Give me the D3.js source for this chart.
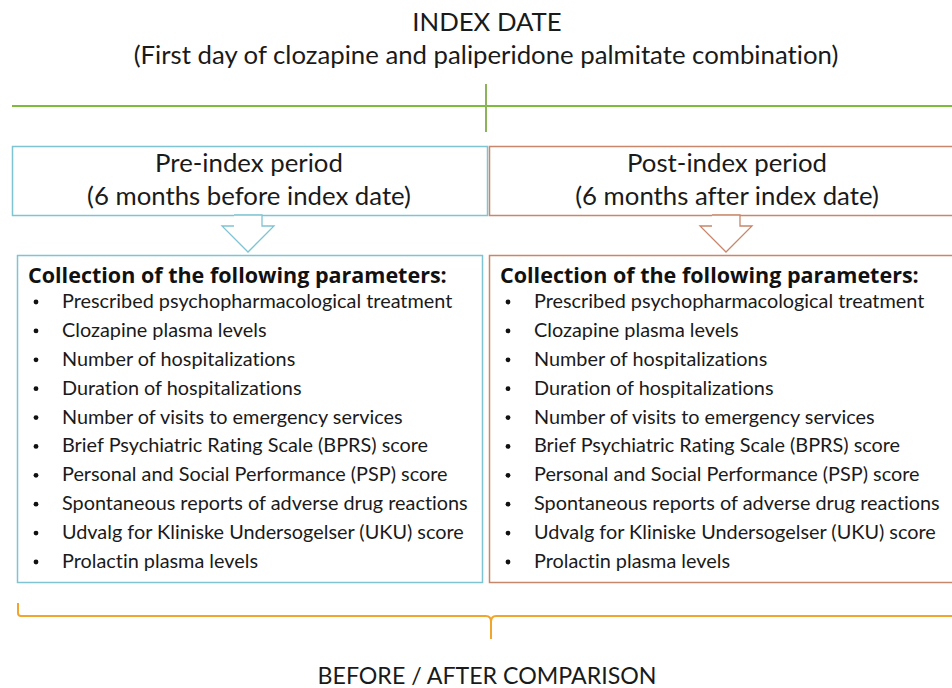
<!DOCTYPE html>
<html>
<head>
<meta charset="utf-8">
<script src="https://cdn.jsdelivr.net/npm/d3@7"></script>
<style>
  html, body { margin: 0; padding: 0; background: #fff; }
  svg { display: block; }
  text { font-variant-ligatures: none; }
</style>
</head>
<body>
<div id="chart"></div>
<script>
const titleLines = ['INDEX DATE', '(First day of clozapine and paliperidone palmitate combination)'];
const periods = ['pre', 'post'];
const periodTitles = ['Pre-index period', 'Post-index period'];
const periodSubtitles = ['(6 months before index date)', '(6 months after index date)'];
const periodColors = ['#7fc4d2', '#c8866a'];
const listHeading = 'Collection of the following parameters:';
const parameters = [
  'Prescribed psychopharmacological treatment',
  'Clozapine plasma levels',
  'Number of hospitalizations',
  'Duration of hospitalizations',
  'Number of visits to emergency services',
  'Brief Psychiatric Rating Scale (BPRS) score',
  'Personal and Social Performance (PSP) score',
  'Spontaneous reports of adverse drug reactions',
  'Udvalg for Kliniske Undersogelser (UKU) score',
  'Prolactin plasma levels'
];
const footerLabel = 'BEFORE / AFTER COMPARISON';

const W = 952, H = 688;
const FONT = 'Lato, "Open Sans", sans-serif';
const svg = d3.select('#chart').append('svg').attr('width', W).attr('height', H);

// column geometry
const col = d3.scaleOrdinal().domain(periods).range([{ hx: 12, hw: 475, bx: 17, bw: 465, cx: 249 }, { hx: 489, hw: 480, bx: 489, bw: 480, cx: 727 }]);
const itemY = d3.scalePoint().domain(parameters).range([308, 568]);

// fit helper: pick font size so that a text spans a target width
function fitSize(sel, target) {
  const w = sel.node().getComputedTextLength();
  const fs = parseFloat(sel.attr('font-size'));
  sel.attr('font-size', fs * target / w);
  return fs * target / w;
}

// title
const t0 = svg.append('text').attr('x', 487).attr('y', 31).attr('text-anchor', 'middle')
  .attr('font-family', FONT).attr('font-size', 22).attr('fill', '#1a1a1a').text(titleLines[0]);
const t1 = svg.append('text').attr('x', 486).attr('y', 64).attr('text-anchor', 'middle')
  .attr('font-family', FONT).attr('font-size', 22).attr('fill', '#1a1a1a').text(titleLines[1]);
const titleSize = fitSize(t1, 705);
t0.attr('font-size', titleSize);

// timeline
svg.append('line').attr('x1', 12).attr('x2', W).attr('y1', 106).attr('y2', 106)
  .attr('stroke', '#7dbb3a').attr('stroke-width', 2);
svg.append('line').attr('x1', 486).attr('x2', 486).attr('y1', 84).attr('y2', 132)
  .attr('stroke', '#8db35a').attr('stroke-width', 2);

let headSize = null, listSize = null, boldSize = null;
periods.forEach((p, i) => {
  const c = col(p);
  const color = periodColors[i];
  const g = svg.append('g');
  g.append('rect').attr('x', c.hx + 0.5).attr('y', 146.5).attr('width', c.hw).attr('height', 69)
    .attr('fill', '#fff').attr('stroke', color).attr('stroke-width', 1.5);
  const h1 = g.append('text').attr('x', c.cx).attr('y', 172).attr('text-anchor', 'middle')
    .attr('font-family', FONT).attr('font-size', 22).attr('fill', '#1a1a1a').text(periodTitles[i]);
  const h2 = g.append('text').attr('x', c.cx).attr('y', 205).attr('text-anchor', 'middle')
    .attr('font-family', FONT).attr('font-size', 22).attr('fill', '#1a1a1a').text(periodSubtitles[i]);
  if (headSize == null) headSize = fitSize(h2, 324);
  h1.attr('font-size', headSize);
  h2.attr('font-size', headSize);

  // hollow down arrow
  const ax = c.cx - 1;
  const arrow = [[ax - 14, 215], [ax + 14, 215], [ax + 14, 226], [ax + 26, 226], [ax, 252], [ax - 26, 226], [ax - 14, 226]];
  g.append('path').attr('d', d3.line()(arrow))
    .attr('fill', '#fff').attr('stroke', color).attr('stroke-width', 1.3);

  // parameter box
  g.append('rect').attr('x', c.bx + 0.5).attr('y', 255.5).attr('width', c.bw).attr('height', 327)
    .attr('fill', '#fff').attr('stroke', color).attr('stroke-width', 1.5);
  const head = g.append('text').attr('x', c.bx + 11).attr('y', 283)
    .attr('font-family', '"Open Sans", Lato, sans-serif').attr('font-weight', 'bold').attr('font-size', 18)
    .attr('fill', '#111').text(listHeading);
  if (boldSize == null) boldSize = fitSize(head, 419);
  head.attr('font-size', boldSize);

  parameters.forEach(par => {
    const y = itemY(par);
    g.append('circle').attr('cx', c.bx + 19).attr('cy', y - 6).attr('r', 2.4).attr('fill', '#111');
    const t = g.append('text').attr('class', 'item').attr('x', c.bx + 45).attr('y', y)
      .attr('font-family', FONT).attr('font-size', 18).attr('fill', '#1a1a1a').text(par);
    if (listSize == null && par === parameters[7]) listSize = fitSize(t, 406);
  });
});
svg.selectAll('text.item').attr('font-size', listSize);

// bracket
const by = 616;
svg.append('path')
  .attr('d', `M18,603 L18,${by - 3} Q18,${by} 21,${by} L${486},${by} Q${491},${by} ${491},${by + 6} L491,639 M491,${by + 6} Q${491},${by} ${496},${by} L${W},${by}`)
  .attr('fill', 'none').attr('stroke', '#f2a52b').attr('stroke-width', 2);

const f = svg.append('text').attr('x', 487).attr('y', 684).attr('text-anchor', 'middle')
  .attr('font-family', FONT).attr('font-size', 22).attr('fill', '#1a1a1a').text(footerLabel);
fitSize(f, 339);
</script>
</body>
</html>
